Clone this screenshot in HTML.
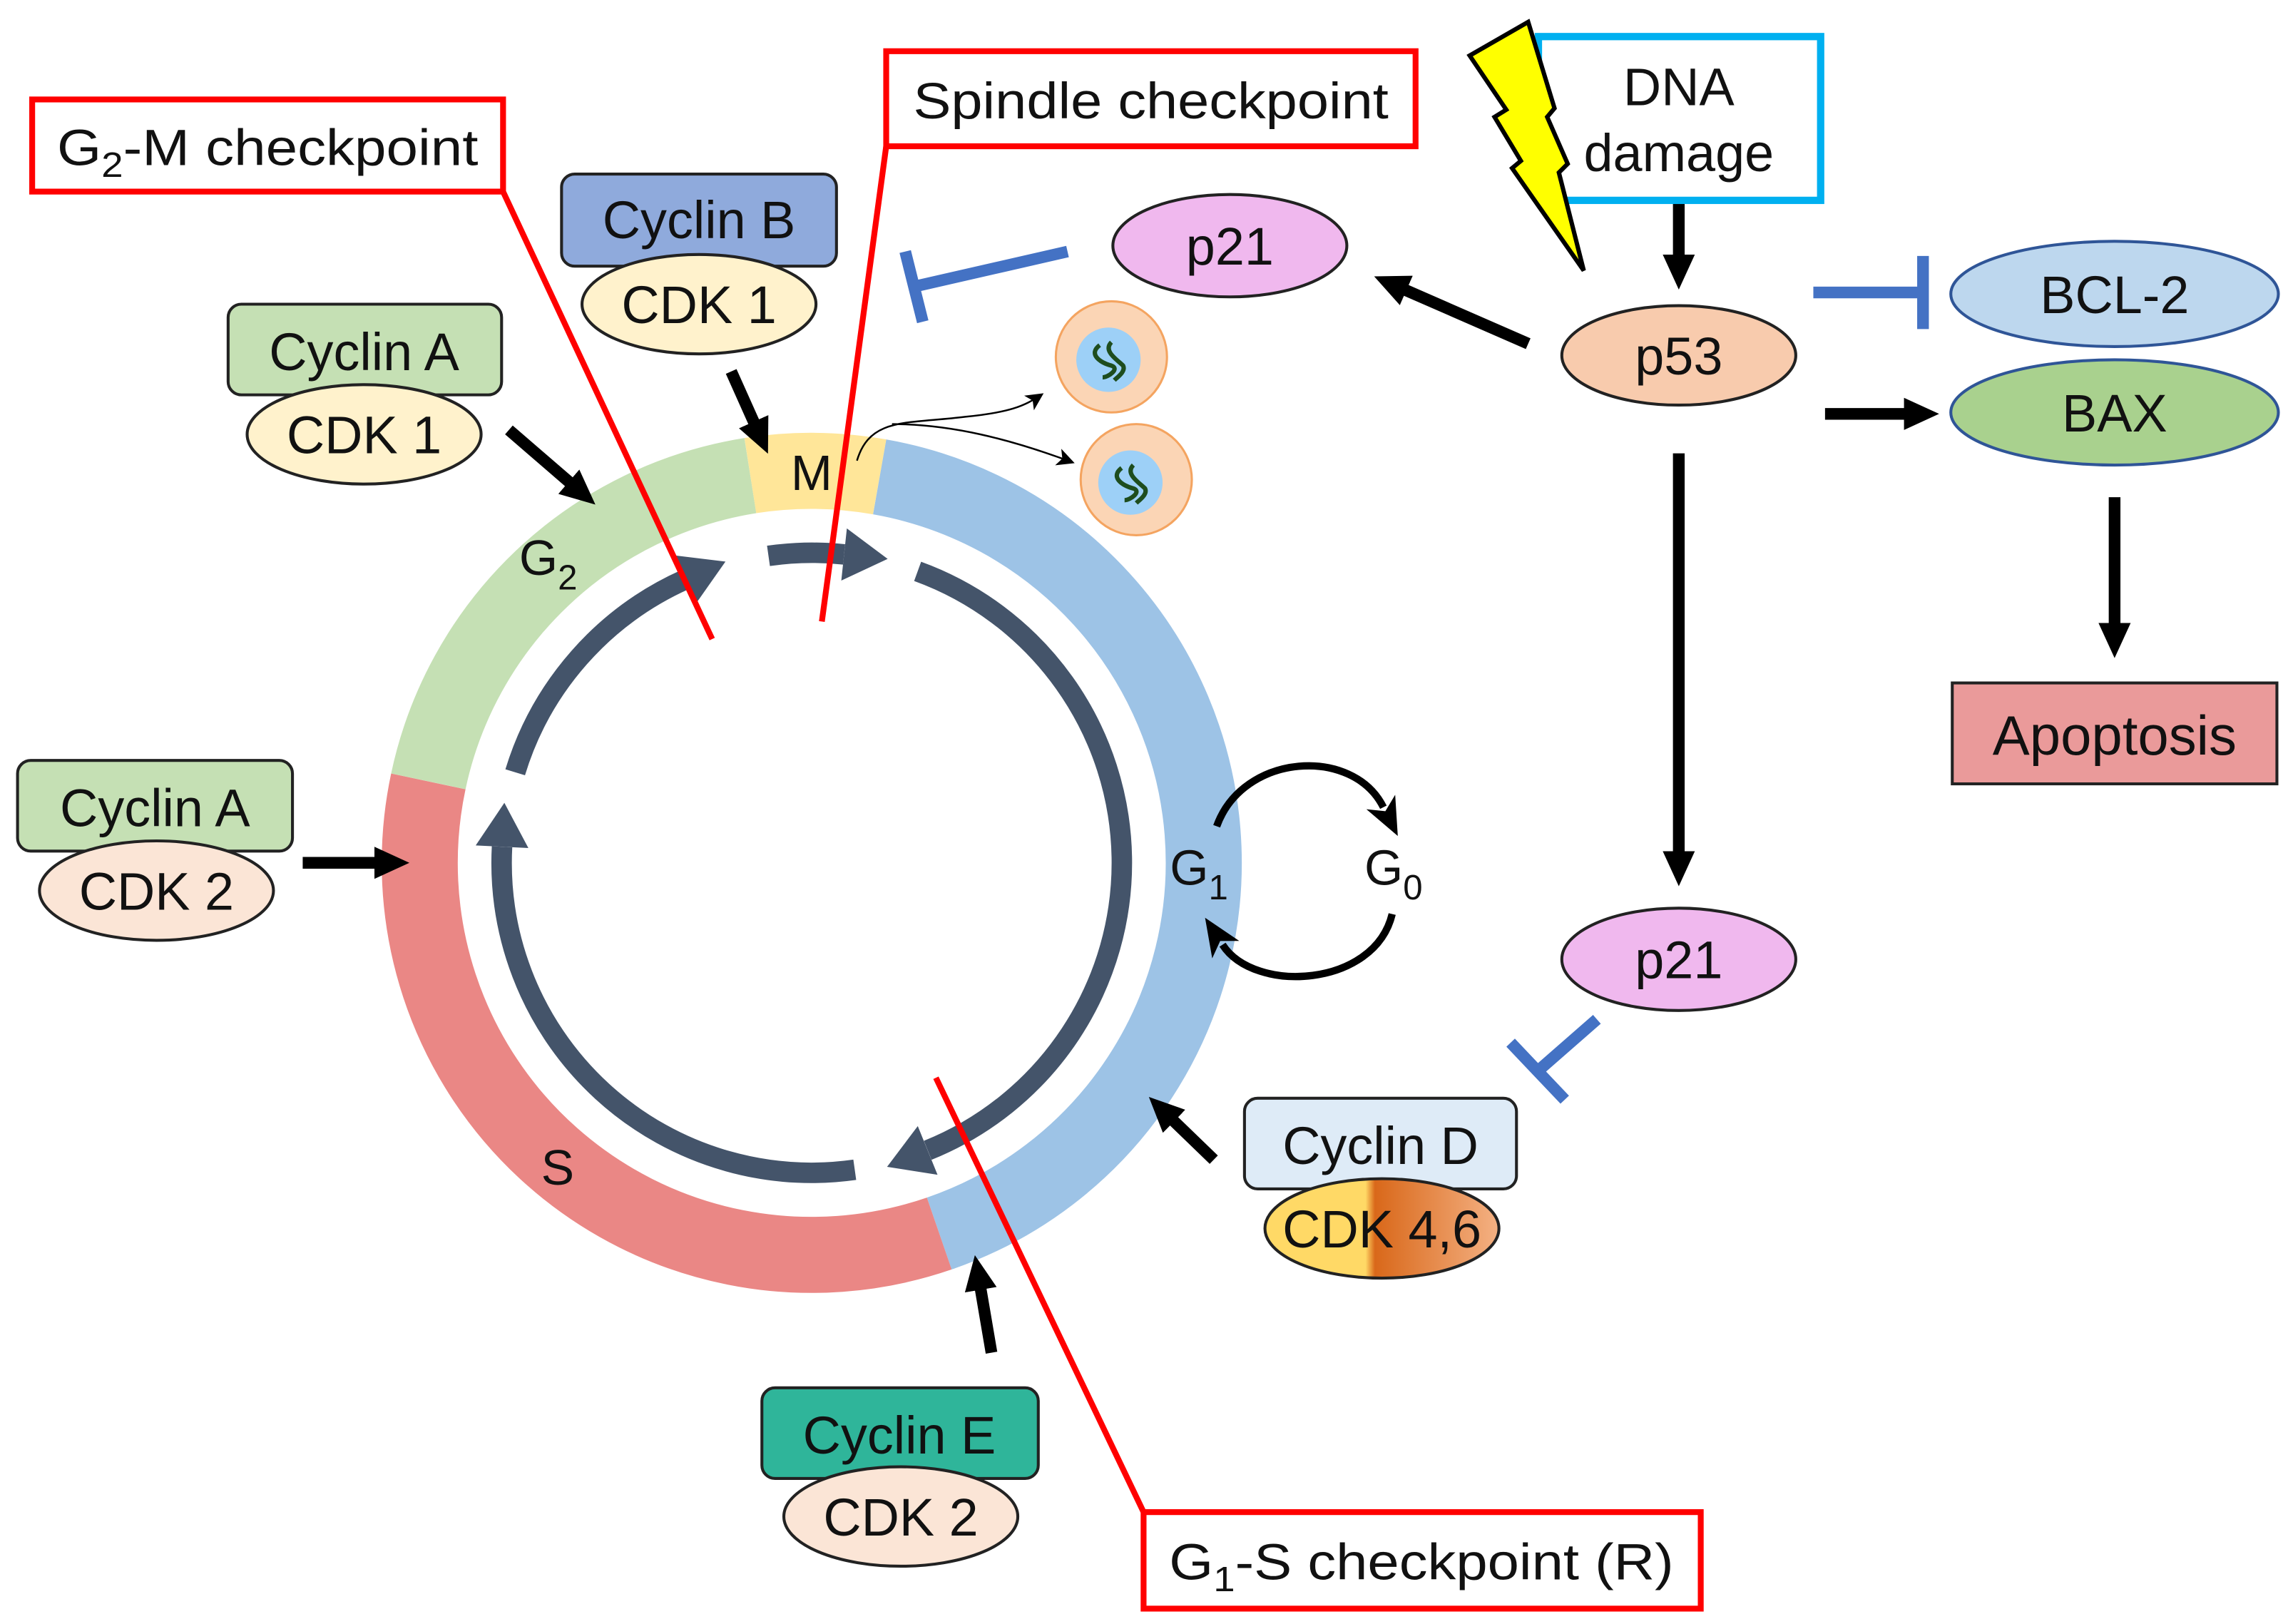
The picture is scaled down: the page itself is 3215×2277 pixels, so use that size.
<!DOCTYPE html>
<html><head><meta charset="utf-8"><style>
html,body{margin:0;padding:0;background:#fff;}
svg{display:block;}
text{font-family:"Liberation Sans",sans-serif;fill:#111;}
</style></head><body>
<svg width="3215" height="2277" viewBox="0 0 1568 1110.5" xmlns="http://www.w3.org/2000/svg">
<defs>
<marker id="bk" markerUnits="userSpaceOnUse" markerWidth="24" markerHeight="24" refX="4" refY="12" orient="auto"><path d="M0,1 L24,12 L0,23 Z" fill="#000"/></marker>
<marker id="sm" markerUnits="userSpaceOnUse" markerWidth="30" markerHeight="30" refX="4" refY="15" orient="auto"><path d="M0,4 L26,15 L0,26 L7,15 Z" fill="#000"/></marker>
<marker id="thin" markerUnits="userSpaceOnUse" markerWidth="14" markerHeight="14" refX="10" refY="7" orient="auto"><path d="M0,1 L12,7 L0,13 L3,7 Z" fill="#000"/></marker>
<linearGradient id="cdk" x1="0" y1="0" x2="1" y2="0">
<stop offset="0" stop-color="#ffd966"/><stop offset="0.43" stop-color="#ffd966"/><stop offset="0.47" stop-color="#d9681a"/><stop offset="1" stop-color="#f4b183"/></linearGradient>
</defs>

<!-- ring -->
<g fill="none" stroke-width="52">
<path d="M601.5,326.1 A268,268 0 0 1 642.3,843.5" stroke="#9dc3e6"/>
<path d="M642.3,843.5 A268,268 0 0 1 292.9,534.3" stroke="#ea8785"/>
<path d="M292.9,534.3 A268,268 0 0 1 513.1,325.2" stroke="#c5e0b4"/>
<path d="M513.1,325.2 A268,268 0 0 1 601.5,326.1" stroke="#ffe699"/>
</g>
<!-- inner arrows -->
<g fill="none" stroke="#44546a" stroke-width="14">
<path d="M627.5,390.7 A212,212 0 0 1 634.4,786.6"/>
<path d="M584.5,799.9 A212,212 0 0 1 343.3,579"/>
<path d="M352.3,528.1 A212,212 0 0 1 468.7,396.2"/>
<path d="M525.5,380.1 A212,212 0 0 1 577.2,379.1"/>
</g>
<g fill="#44546a">
<polygon points="606.6,797.9 641.1,803.3 627.6,770"/>
<polygon points="344.9,549 325.3,578.1 361.3,579.9"/>
<polygon points="496.1,384 461.4,379.8 476,412.6"/>
<polygon points="607,382.2 579.1,361.3 575.3,397"/>
</g>
<text x="555" y="335" font-size="34" text-anchor="middle">M</text>
<text x="355" y="393" font-size="34">G<tspan font-size="24" dy="10">2</tspan></text>
<text x="370" y="810" font-size="34">S</text>
<text x="800" y="605" font-size="34">G<tspan font-size="24" dy="10">1</tspan></text>
<text x="933" y="605" font-size="34">G<tspan font-size="24" dy="10">0</tspan></text>
<!-- G1/G0 loop -->
<path d="M832,565 C850,515 925,510 946,552" fill="none" stroke="#000" stroke-width="5" marker-end="url(#sm)"/>
<path d="M952,625 C940,675 858,680 836,646" fill="none" stroke="#000" stroke-width="5" marker-end="url(#sm)"/>

<!-- cells -->
<circle cx="760" cy="244" r="38" fill="#fbd5b5" stroke="#f4a460" stroke-width="1.5"/>
<circle cx="758" cy="246" r="22" fill="#9dd0f7"/>
<path d="M752,236 C744,242 752,248 760,250 C766,252 758,258 754,258 M760,234 C754,240 764,246 768,250 C770,254 764,258 762,260" stroke="#1e4d1e" stroke-width="3" fill="none"/>
<circle cx="777" cy="328" r="38" fill="#fbd5b5" stroke="#f4a460" stroke-width="1.5"/>
<circle cx="773" cy="330" r="22" fill="#9dd0f7"/>
<path d="M767,320 C759,326 767,332 775,334 C781,336 773,342 769,342 M775,318 C769,324 779,330 783,334 C785,338 779,342 777,344" stroke="#1e4d1e" stroke-width="3" fill="none"/>
<path d="M586,315 C595,285 620,290 660,285 C690,282 700,278 712,270" fill="none" stroke="#000" stroke-width="1.2" marker-end="url(#thin)"/>
<path d="M610,290 C650,290 690,300 733,316" fill="none" stroke="#000" stroke-width="1.2" marker-end="url(#thin)"/>

<!-- red checkpoint lines -->
<g stroke="#ff0000" stroke-width="4" fill="none">
<line x1="344" y1="131" x2="487" y2="437"/>
<line x1="606" y1="100" x2="562" y2="425"/>
<line x1="640" y1="737" x2="782" y2="1034"/>
<rect x="22" y="68" width="322" height="63" fill="#fff"/>
<rect x="606" y="35" width="362" height="65" fill="#fff"/>
<rect x="782" y="1034" width="381" height="66" fill="#fff"/>
</g>
<text x="183" y="113" font-size="35" text-anchor="middle" textLength="288" lengthAdjust="spacingAndGlyphs">G<tspan font-size="24" dy="8">2</tspan><tspan dy="-8">-M checkpoint</tspan></text>
<text x="787" y="81" font-size="35" text-anchor="middle" textLength="325" lengthAdjust="spacingAndGlyphs">Spindle checkpoint</text>
<text x="972" y="1080" font-size="35" text-anchor="middle" textLength="345" lengthAdjust="spacingAndGlyphs">G<tspan font-size="24" dy="8">1</tspan><tspan dy="-8">-S checkpoint (R)</tspan></text>

<!-- cyclin complexes -->
<g stroke="#222" stroke-width="2">
<rect x="384" y="119" width="188" height="63" rx="9" fill="#8faadc"/>
<ellipse cx="478" cy="208" rx="80" ry="34" fill="#fff2cc"/>
<rect x="156" y="208" width="187" height="62" rx="9" fill="#c5e0b4"/>
<ellipse cx="249" cy="297" rx="80" ry="34" fill="#fff2cc"/>
<rect x="12" y="520" width="188" height="62" rx="9" fill="#c5e0b4"/>
<ellipse cx="107" cy="609" rx="80" ry="34" fill="#fbe5d6"/>
<rect x="521" y="949" width="189" height="62" rx="9" fill="#2fb59a"/>
<ellipse cx="616" cy="1037" rx="80" ry="34" fill="#fbe5d6"/>
<rect x="851" y="751" width="186" height="62" rx="9" fill="#deebf7"/>
<ellipse cx="945" cy="840" rx="80" ry="34" fill="url(#cdk)"/>
</g>
<g font-size="36" text-anchor="middle">
<text x="478" y="163">Cyclin B</text>
<text x="478" y="221">CDK 1</text>
<text x="249" y="253">Cyclin A</text>
<text x="249" y="310">CDK 1</text>
<text x="106" y="565">Cyclin A</text>
<text x="107" y="622">CDK 2</text>
<text x="615" y="994">Cyclin E</text>
<text x="616" y="1050">CDK 2</text>
<text x="944" y="796">Cyclin D</text>
<text x="945" y="853">CDK 4,6</text>
</g>

<!-- black arrows -->
<g stroke="#000" stroke-width="8" fill="none">
<line x1="500" y1="254" x2="517" y2="292" marker-end="url(#bk)"/>
<line x1="348" y1="294" x2="392" y2="332" marker-end="url(#bk)"/>
<line x1="207" y1="590" x2="260" y2="590" marker-end="url(#bk)"/>
<line x1="678" y1="925" x2="670" y2="878" marker-end="url(#bk)"/>
<line x1="830" y1="793" x2="800" y2="764" marker-end="url(#bk)"/>
<line x1="1148" y1="133" x2="1148" y2="178" marker-end="url(#bk)"/>
<line x1="1045" y1="235" x2="958" y2="197" marker-end="url(#bk)"/>
<line x1="1248" y1="283" x2="1306" y2="283" marker-end="url(#bk)"/>
<line x1="1446" y1="340" x2="1446" y2="430" marker-end="url(#bk)"/>
<line x1="1148" y1="310" x2="1148" y2="586" marker-end="url(#bk)"/>
</g>
<!-- blue inhibitors -->
<g stroke="#4472c4" stroke-width="8" fill="none">
<line x1="730" y1="172" x2="625" y2="196"/>
<line x1="619" y1="172" x2="631" y2="220"/>
<line x1="1240" y1="200" x2="1315" y2="200"/>
<line x1="1315" y1="175" x2="1315" y2="225"/>
<line x1="1092" y1="697" x2="1052" y2="732"/>
<line x1="1033" y1="713" x2="1070" y2="752"/>
</g>

<!-- DNA damage -->
<rect x="1052" y="25" width="193" height="112" fill="#fff" stroke="#00b0f0" stroke-width="5"/>
<text x="1148" y="72" font-size="36" text-anchor="middle">DNA</text>
<text x="1148" y="117" font-size="36" text-anchor="middle">damage</text>
<polygon points="1045,15 1005,38 1030,75 1022,80 1040,110 1034,115 1083,185 1066,118 1072,112 1058,80 1063,74" fill="#ffff00" stroke="#000" stroke-width="3" stroke-linejoin="miter"/>

<!-- p53 pathway -->
<g stroke="#222" stroke-width="2">
<ellipse cx="841" cy="168" rx="80" ry="35" fill="#f0b8ee"/>
<ellipse cx="1148" cy="243" rx="80" ry="34" fill="#f8cbad"/>
<ellipse cx="1148" cy="656" rx="80" ry="35" fill="#f0b8ee"/>
<ellipse cx="1446" cy="201" rx="112" ry="36" fill="#bdd7ee" stroke="#2f5597"/>
<ellipse cx="1446" cy="282" rx="112" ry="36" fill="#a9d18e" stroke="#2f5597"/>
<rect x="1335" y="467" width="222" height="69" fill="#ea9a9a"/>
</g>
<g font-size="36" text-anchor="middle">
<text x="841" y="181">p21</text>
<text x="1148" y="256">p53</text>
<text x="1148" y="669">p21</text>
<text x="1446" y="214">BCL-2</text>
<text x="1446" y="295">BAX</text>
<text x="1446" y="516" font-size="38">Apoptosis</text>
</g>
</svg>
</body></html>
